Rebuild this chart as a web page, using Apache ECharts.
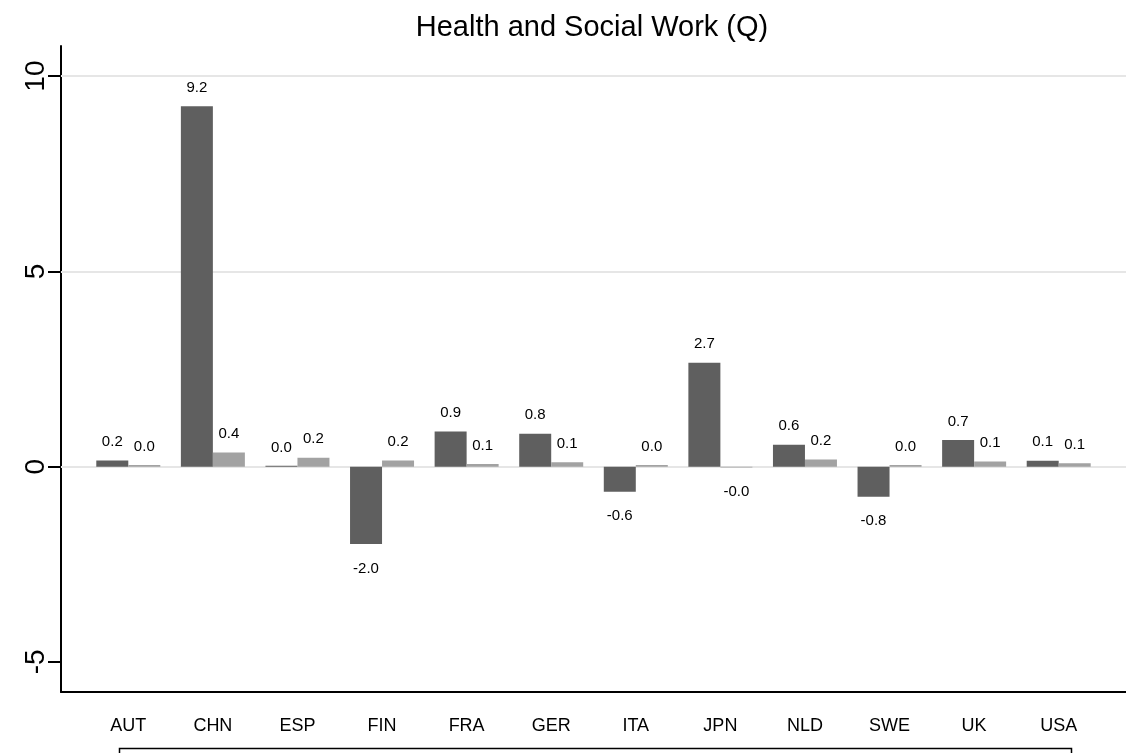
<!DOCTYPE html>
<html>
<head>
<meta charset="utf-8">
<title>Health and Social Work (Q)</title>
<script src="https://cdn.jsdelivr.net/npm/echarts@6/dist/echarts.min.js"></script>
<style>
  html, body { margin: 0; padding: 0; background: #ffffff; }
  #chart { width: 1126px; height: 753px; }
</style>
</head>
<body>
<div id="chart"></div>
<script>
// Countries along the category axis
const countries = ['AUT', 'CHN', 'ESP', 'FIN', 'FRA', 'GER', 'ITA', 'JPN', 'NLD', 'SWE', 'UK', 'USA'];
// First (dark) series
const seriesDark = [0.16, 9.23, 0.02, -1.98, 0.90, 0.84, -0.64, 2.66, 0.56, -0.77, 0.68, 0.15];
// Second (light) series
const seriesLight = [0.04, 0.36, 0.23, 0.16, 0.07, 0.11, 0.04, -0.02, 0.18, 0.04, 0.13, 0.09];
// Value-axis ticks and grid lines
const yTicks = [-5, 0, 5, 10];
const yGridLines = [0, 5, 10];
const yMin = -5.77;
const yMax = 10.77;

const FONT = '"Liberation Sans", Arial, Helvetica, sans-serif';

function barData(values) {
  return values.map(v => ({
    value: v,
    label: {
      position: v >= 0 ? 'top' : 'bottom',
      distance: v >= 0 ? 11 : 17
    }
  }));
}

function barSeries(name, values, color) {
  return {
    name: name,
    type: 'bar',
    xAxisIndex: 1,
    yAxisIndex: 1,
    data: barData(values),
    barWidth: 32,
    barGap: '0%',
    itemStyle: { color: color },
    label: {
      show: true,
      formatter: p => p.value.toFixed(1),
      fontFamily: FONT,
      fontSize: 15,
      color: '#000000'
    },
    z: 10
  };
}

const chart = echarts.init(document.getElementById('chart'), null, { renderer: 'canvas' });

chart.setOption({
  backgroundColor: '#ffffff',
  animation: false,
  title: {
    text: 'Health and Social Work (Q)',
    left: 587,
    top: 8,
    textAlign: 'center',
    textStyle: { fontFamily: FONT, fontSize: 29, fontWeight: 'normal', color: '#000000' }
  },
  grid: [
    // outer plot region: holds the visible axes and grid lines
    { left: 61, right: 0, top: 46, bottom: 61 },
    // inner region: holds the bars, inset from the axes
    { left: 86, width: 1015, top: 46, bottom: 61 }
  ],
  xAxis: [
    {
      type: 'value', gridIndex: 0, min: 0, max: 1,
      axisLine: { show: true, onZero: false, lineStyle: { color: '#000000', width: 2 } },
      axisTick: { show: false },
      axisLabel: { show: false },
      splitLine: { show: false }
    },
    {
      type: 'category', gridIndex: 1, data: countries,
      axisLine: { show: false },
      axisTick: { show: false },
      axisLabel: { margin: 25, fontFamily: FONT, fontSize: 18, color: '#000000' },
      splitLine: { show: false }
    }
  ],
  yAxis: [
    {
      type: 'value', gridIndex: 0, min: yMin, max: yMax,
      axisLine: { show: true, lineStyle: { color: '#000000', width: 2 } },
      axisTick: { show: true, customValues: yTicks, length: 13, lineStyle: { color: '#000000', width: 2 } },
      axisLabel: {
        customValues: yTicks, rotate: 90, margin: 11,
        fontFamily: FONT, fontSize: 28, color: '#000000'
      },
      splitLine: { show: false }
    },
    {
      type: 'value', gridIndex: 1, min: yMin, max: yMax, show: false
    }
  ],
  series: [
    {
      name: 'grid',
      type: 'line',
      xAxisIndex: 0,
      yAxisIndex: 0,
      data: [],
      silent: true,
      z: 1,
      markLine: {
        silent: true,
        z: 1,
        symbol: 'none',
        label: { show: false },
        lineStyle: { color: '#e6e6e6', width: 2, type: 'solid' },
        data: yGridLines.map(v => ({ yAxis: v }))
      }
    },
    barSeries('dark', seriesDark, '#5f5f5f'),
    barSeries('light', seriesLight, '#a2a2a2')
  ],
  graphic: [
    {
      type: 'rect',
      left: 117, top: 746,
      shape: { width: 952, height: 30 },
      style: { fill: 'none', stroke: '#000000', lineWidth: 1.5 }
    }
  ]
});
</script>
</body>
</html>
